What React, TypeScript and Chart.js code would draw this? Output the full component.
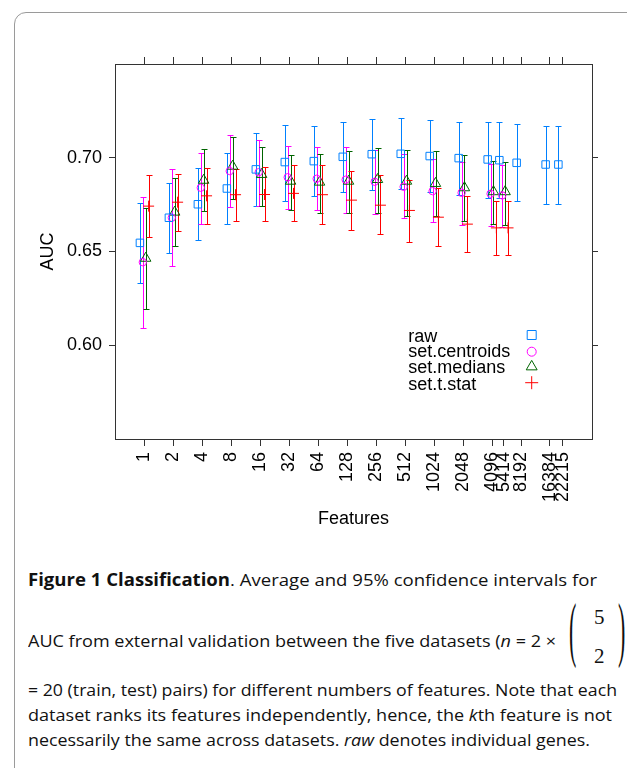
import React, { useEffect, useLayoutEffect, useRef } from 'react';
import { Chart, registerables } from 'chart.js';

Chart.register(...registerables);

// ---- data ----
const features = [1, 2, 4, 8, 16, 32, 64, 128, 256, 512, 1024, 2048, 4096, 5414, 8192, 16384, 22215];
const featureLabels = ['1', '2', '4', '8', '16', '32', '64', '128', '256', '512', '1024', '2048', '4096', '5414', '8192', '16384', '22215'];
const yTickValues = [0.6, 0.65, 0.7];
const seriesNames = ['raw', 'set.centroids', 'set.medians', 'set.t.stat'];

const rawMean = [0.6546, 0.668, 0.6752, 0.6836, 0.6938, 0.6977, 0.6982, 0.7005, 0.7019, 0.7021, 0.7009, 0.6998, 0.6991, 0.6987, 0.6973, 0.6964, 0.6964];
const rawLo = [0.6333, 0.6491, 0.6559, 0.6648, 0.6742, 0.6772, 0.6794, 0.6815, 0.6829, 0.6831, 0.6816, 0.6803, 0.6788, 0.6788, 0.6768, 0.6755, 0.6755];
const rawHi = [0.676, 0.6867, 0.6947, 0.7025, 0.713, 0.7176, 0.7172, 0.7192, 0.7208, 0.721, 0.7201, 0.7192, 0.7192, 0.7192, 0.7178, 0.7171, 0.7171];

const centMean = [0.6443, 0.668, 0.684, 0.6929, 0.6923, 0.6896, 0.6888, 0.6883, 0.6872, 0.6845, 0.6822, 0.6813, 0.6808, 0.6799];
const centLo = [0.6093, 0.6425, 0.6649, 0.6739, 0.674, 0.6729, 0.6719, 0.6704, 0.6701, 0.668, 0.6656, 0.6642, 0.6637, 0.6633];
const centHi = [0.6792, 0.6939, 0.7027, 0.7119, 0.7096, 0.7062, 0.7055, 0.7057, 0.704, 0.7021, 0.6995, 0.6979, 0.6968, 0.6964];

const medMean = [0.6464, 0.671, 0.688, 0.6955, 0.6911, 0.6875, 0.687, 0.6875, 0.6884, 0.6875, 0.6863, 0.684, 0.6819, 0.6819];
const medLo = [0.6191, 0.6527, 0.6715, 0.6781, 0.6745, 0.6719, 0.6703, 0.6703, 0.6704, 0.6688, 0.6688, 0.6665, 0.6648, 0.6644];
const medHi = [0.6733, 0.689, 0.7048, 0.7112, 0.7057, 0.7016, 0.7021, 0.7035, 0.7051, 0.7043, 0.7034, 0.7014, 0.6982, 0.6979];

const tMean = [0.6742, 0.6763, 0.6797, 0.6803, 0.6804, 0.681, 0.6803, 0.6774, 0.6747, 0.6719, 0.6683, 0.6646, 0.6626, 0.6626];
const tLo = [0.658, 0.6612, 0.6648, 0.6665, 0.6662, 0.666, 0.6646, 0.6617, 0.6592, 0.6553, 0.6527, 0.6496, 0.6479, 0.6479];
const tHi = [0.6907, 0.6915, 0.6945, 0.6939, 0.695, 0.6959, 0.6959, 0.6931, 0.6907, 0.6879, 0.6838, 0.6795, 0.6772, 0.6772];

// ---- style ----
const FONT = "'Liberation Sans', Arial, Helvetica, sans-serif";
const AX = '#333333';
const COLORS = ['#0080ff', '#ff00ff', '#006400', '#ff0000'];
const OFFSETS = [-0.15, -0.05, 0.05, 0.15];
const STYLES = ['rect', 'circle', 'triangle', 'cross'];
const RADII = [5.3, 3.7, 6.0, 5.5];
const XMIN = -1.01;
const XMAX = 15.45;

const SERIES = [
  { mean: rawMean, lo: rawLo, hi: rawHi },
  { mean: centMean, lo: centLo, hi: centHi },
  { mean: medMean, lo: medLo, hi: medHi },
  { mean: tMean, lo: tLo, hi: tHi },
];

const errorBars = {
  id: 'errorBars',
  beforeDatasetsDraw(chart: any) {
    const ctx = chart.ctx;
    const xs = chart.scales.x;
    const ys = chart.scales.y;
    SERIES.forEach((s, si) => {
      ctx.save();
      ctx.strokeStyle = COLORS[si];
      ctx.lineWidth = 1;
      s.lo.forEach((lo, i) => {
        const px = Math.round(xs.getPixelForValue(Math.log2(features[i]) + OFFSETS[si])) + 0.5;
        const y1 = Math.round(ys.getPixelForValue(lo)) + 0.5;
        const y2 = Math.round(ys.getPixelForValue(s.hi[i])) + 0.5;
        ctx.beginPath();
        ctx.moveTo(px, y1);
        ctx.lineTo(px, y2);
        ctx.moveTo(px - 3, y1);
        ctx.lineTo(px + 3, y1);
        ctx.moveTo(px - 3, y2);
        ctx.lineTo(px + 3, y2);
        ctx.stroke();
      });
      ctx.restore();
    });
  },
};

function drawSymbol(ctx: CanvasRenderingContext2D, kind: number, x: number, y: number, scale: number) {
  ctx.save();
  ctx.strokeStyle = COLORS[kind];
  ctx.lineWidth = 1;
  ctx.beginPath();
  if (kind === 0) {
    const h = 4.5 * scale;
    ctx.rect(x - h, y - h, 2 * h, 2 * h);
  } else if (kind === 1) {
    ctx.arc(x, y, 4.5 * scale, 0, Math.PI * 2);
  } else if (kind === 2) {
    const r = 6.3 * scale;
    ctx.moveTo(x, y - r);
    ctx.lineTo(x + r * 0.866, y + r * 0.5);
    ctx.lineTo(x - r * 0.866, y + r * 0.5);
    ctx.closePath();
  } else {
    const h = 6.5 * scale;
    ctx.moveTo(x - h, y);
    ctx.lineTo(x + h, y);
    ctx.moveTo(x, y - h);
    ctx.lineTo(x, y + h);
  }
  ctx.stroke();
  ctx.restore();
}

const legendPlugin = {
  id: 'innerLegend',
  afterDraw(chart: any) {
    const ctx = chart.ctx;
    const baselines = [333.7, 349.3, 365.3, 382];
    const symY = [327, 343.7, 358.7, 374.7];
    ctx.save();
    ctx.font = `18px ${FONT}`;
    ctx.fillStyle = '#000';
    ctx.textBaseline = 'alphabetic';
    ctx.textAlign = 'left';
    seriesNames.forEach((name, i) => {
      ctx.fillText(name, 400.3, baselines[i]);
      drawSymbol(ctx, i, 523.7, symY[i], 1);
    });
    ctx.restore();
  },
};

const axisFont = { family: FONT, size: 18 };

function ChartCanvas() {
  const ref = useRef<HTMLCanvasElement | null>(null);
  useEffect(() => {
    if (!ref.current) return;
    const chart = new Chart(ref.current, {
      type: 'scatter',
      data: {
        datasets: SERIES.map((s, si) => ({
          label: seriesNames[si],
          data: s.mean.map((m, i) => ({ x: Math.log2(features[i]) + OFFSETS[si], y: m })),
          pointStyle: STYLES[si] as any,
          pointRadius: RADII[si],
          pointHoverRadius: RADII[si],
          borderColor: COLORS[si],
          backgroundColor: 'rgba(0,0,0,0)',
          pointBorderWidth: 1,
          borderWidth: 1,
          showLine: false,
        })),
      },
      options: {
        animation: false,
        responsive: false,
        maintainAspectRatio: false,
        events: [],
        layout: { padding: 0 },
        plugins: { legend: { display: false }, tooltip: { enabled: false } },
        scales: {
          x: {
            type: 'linear',
            axis: 'x',
            position: 'bottom',
            min: XMIN,
            max: XMAX,
            afterBuildTicks: (s: any) => {
              s.ticks = features.map((f) => ({ value: Math.log2(f) }));
            },
            afterFit: (s: any) => {
              s.height = 114;
            },
            ticks: {
              autoSkip: false,
              minRotation: 90,
              maxRotation: 90,
              padding: 6,
              color: '#000',
              font: axisFont,
              callback: (_v: any, i: number) => featureLabels[i],
            },
            grid: { drawOnChartArea: false, drawTicks: true, tickLength: 7, color: AX, tickColor: AX },
            border: { display: true, color: AX, width: 1 },
            title: { display: true, text: 'Features', color: '#000', font: axisFont, padding: { top: 0, bottom: 23 } },
          },
          x2: {
            type: 'linear',
            axis: 'x',
            position: 'top',
            min: XMIN,
            max: XMAX,
            afterBuildTicks: (s: any) => {
              s.ticks = features.map((f) => ({ value: Math.log2(f) }));
            },
            afterFit: (s: any) => {
              s.height = 56;
            },
            ticks: { display: false, autoSkip: false },
            grid: { drawOnChartArea: false, drawTicks: true, tickLength: 7, color: AX, tickColor: AX },
            border: { display: true, color: AX, width: 1 },
          },
          y: {
            type: 'linear',
            axis: 'y',
            position: 'left',
            min: 0.55,
            max: 0.75,
            afterBuildTicks: (s: any) => {
              s.ticks = yTickValues.map((v) => ({ value: v }));
            },
            afterFit: (s: any) => {
              s.width = 107;
            },
            ticks: {
              padding: 7,
              color: '#000',
              font: axisFont,
              callback: (v: any) => Number(v).toFixed(2),
            },
            grid: { drawOnChartArea: false, drawTicks: true, tickLength: 6, color: AX, tickColor: AX },
            border: { display: true, color: AX, width: 1 },
            title: { display: true, text: 'AUC', color: '#000', font: axisFont, padding: { top: 29.5, bottom: 0 } },
          },
          y2: {
            type: 'linear',
            axis: 'y',
            position: 'right',
            min: 0.55,
            max: 0.75,
            afterBuildTicks: (s: any) => {
              s.ticks = yTickValues.map((v) => ({ value: v }));
            },
            afterFit: (s: any) => {
              s.width = 35;
            },
            ticks: { display: false },
            grid: { drawOnChartArea: false, drawTicks: true, tickLength: 6, color: AX, tickColor: AX },
            border: { display: true, color: AX, width: 1 },
          },
        },
      } as any,
      plugins: [errorBars, legendPlugin],
    });
    return () => chart.destroy();
  }, []);
  return <canvas ref={ref} width={619} height={545} style={{ position: 'absolute', left: 0, top: 0, width: 619, height: 545 }} />;
}

const CAP_FONT = "'Open Sans', 'Noto Sans', sans-serif";

function FitLine({ left, top, width, children }: { left: number; top: number; width: number; children: React.ReactNode }) {
  const ref = useRef<HTMLDivElement | null>(null);
  useLayoutEffect(() => {
    const el = ref.current;
    if (!el) return;
    el.style.transform = 'none';
    const w = el.getBoundingClientRect().width;
    if (w > 0) el.style.transform = `scaleX(${width / w})`;
  }, [width]);
  return (
    <div
      ref={ref}
      style={{
        position: 'absolute',
        left,
        top,
        whiteSpace: 'nowrap',
        fontFamily: CAP_FONT,
        fontSize: 17,
        lineHeight: '20px',
        color: '#111',
        transformOrigin: '0 0',
        display: 'inline-block',
      }}
    >
      {children}
    </div>
  );
}

const serifBase: React.CSSProperties = {
  position: 'absolute',
  fontFamily: "'Liberation Serif', serif",
  color: '#111',
};

export default function App() {
  // page coords minus 8 (body margin)
  return (
    <div style={{ position: 'relative', width: 619, height: 760, overflow: 'hidden', background: '#fff' }}>
      <div
        style={{
          position: 'absolute',
          left: 6,
          top: 4,
          width: 700,
          height: 900,
          border: '1px solid #9a9a9a',
          borderRadius: 12,
          boxSizing: 'border-box',
        }}
      />
      <ChartCanvas />
      <FitLine left={20} top={562} width={569}>
        <b>Figure 1 Classification</b>. Average and 95% confidence intervals for
      </FitLine>
      <FitLine left={20} top={623} width={528}>
        AUC from external validation between the five datasets (<i>n</i> = 2 ×
      </FitLine>
      <div style={{ ...serifBase, left: 561, top: 586, fontSize: 22, lineHeight: '22px', transform: 'scaleY(3.3)', transformOrigin: '0 0' }}>(</div>
      <div style={{ ...serifBase, left: 586, top: 597, fontSize: 21, lineHeight: '24px' }}>5</div>
      <div style={{ ...serifBase, left: 586, top: 636, fontSize: 21, lineHeight: '24px' }}>2</div>
      <div style={{ ...serifBase, left: 610, top: 586, fontSize: 22, lineHeight: '22px', transform: 'scaleY(3.3)', transformOrigin: '0 0' }}>)</div>
      <FitLine left={20} top={672} width={589}>
        = 20 (train, test) pairs) for different numbers of features. Note that each
      </FitLine>
      <FitLine left={20} top={697} width={584}>
        dataset ranks its features independently, hence, the <i>k</i>th feature is not
      </FitLine>
      <FitLine left={20} top={722} width={562}>
        necessarily the same across datasets. <i>raw</i> denotes individual genes.
      </FitLine>
    </div>
  );
}
